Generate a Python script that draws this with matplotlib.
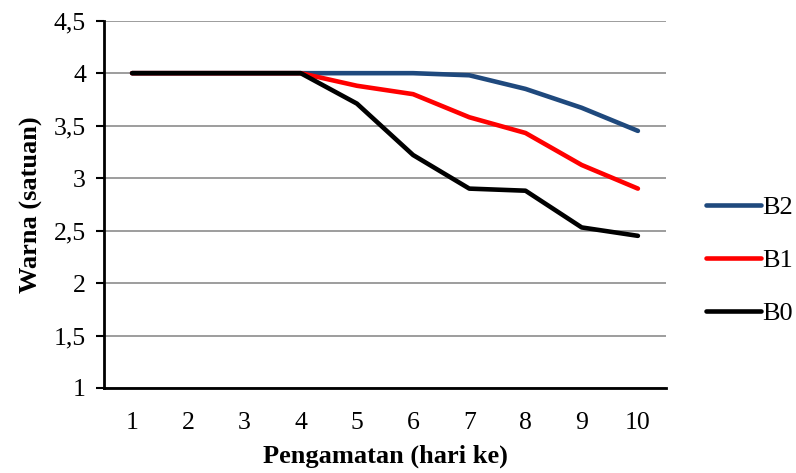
import matplotlib
matplotlib.use("Agg")
import matplotlib.pyplot as plt
from matplotlib.ticker import FixedLocator, FuncFormatter

days = [1, 2, 3, 4, 5, 6, 7, 8, 9, 10]
b2 = [4.0, 4.0, 4.0, 4.0, 4.0, 4.0, 3.98, 3.85, 3.67, 3.45]
b1 = [4.0, 4.0, 4.0, 4.0, 3.88, 3.80, 3.58, 3.43, 3.125, 2.90]
b0 = [4.0, 4.0, 4.0, 4.0, 3.71, 3.22, 2.90, 2.88, 2.53, 2.45]
yticks = [1, 1.5, 2, 2.5, 3, 3.5, 4, 4.5]

plt.rcParams['font.family'] = ['Liberation Serif', 'DejaVu Serif']

fig = plt.figure(figsize=(7.96, 4.73), dpi=100)
ax = fig.add_axes([104/796, 1-388/473, (666-104)/796, (388-20.7)/473])

ax.plot(days, b2, color='#1f497d', lw=3.3, label='B2', solid_capstyle='round', solid_joinstyle='round', zorder=3)
ax.plot(days, b1, color='#ff0000', lw=3.3, label='B1', solid_capstyle='round', solid_joinstyle='round', zorder=4)
ax.plot(days, b0, color='#000000', lw=3.3, label='B0', solid_capstyle='round', solid_joinstyle='round', zorder=5)

ax.set_xlim(0.5, 10.5)
ax.set_ylim(1, 4.5)
ax.yaxis.set_major_locator(FixedLocator(yticks))
ax.yaxis.set_major_formatter(FuncFormatter(lambda v, p: ('%g' % v).replace('.', ',')))
ax.set_xticks(days)
ax.set_xticklabels([str(d) for d in days])
ax.grid(axis='y', color='#8c8c8c', lw=1.2, zorder=0)
for s in ['top', 'right']:
    ax.spines[s].set_visible(False)
ax.spines['left'].set_linewidth(2)
ax.spines['bottom'].set_linewidth(2)
ax.tick_params(axis='y', direction='out', length=6, width=1.5, labelsize=18.5, pad=7)
ax.tick_params(axis='x', length=0, labelsize=18.5, pad=17)

ax.set_ylabel('Warna (satuan)', fontsize=19, fontweight='bold', labelpad=8)
ax.set_xlabel('Pengamatan (hari ke)', fontsize=19, fontweight='bold', labelpad=8)

leg = ax.legend(loc='center left', bbox_to_anchor=(1.052, 0.348), frameon=False,
                fontsize=19, handlelength=2.1, handletextpad=0.05, labelspacing=1.12,
                borderaxespad=0)

fig.savefig('out.png', dpi=100)
